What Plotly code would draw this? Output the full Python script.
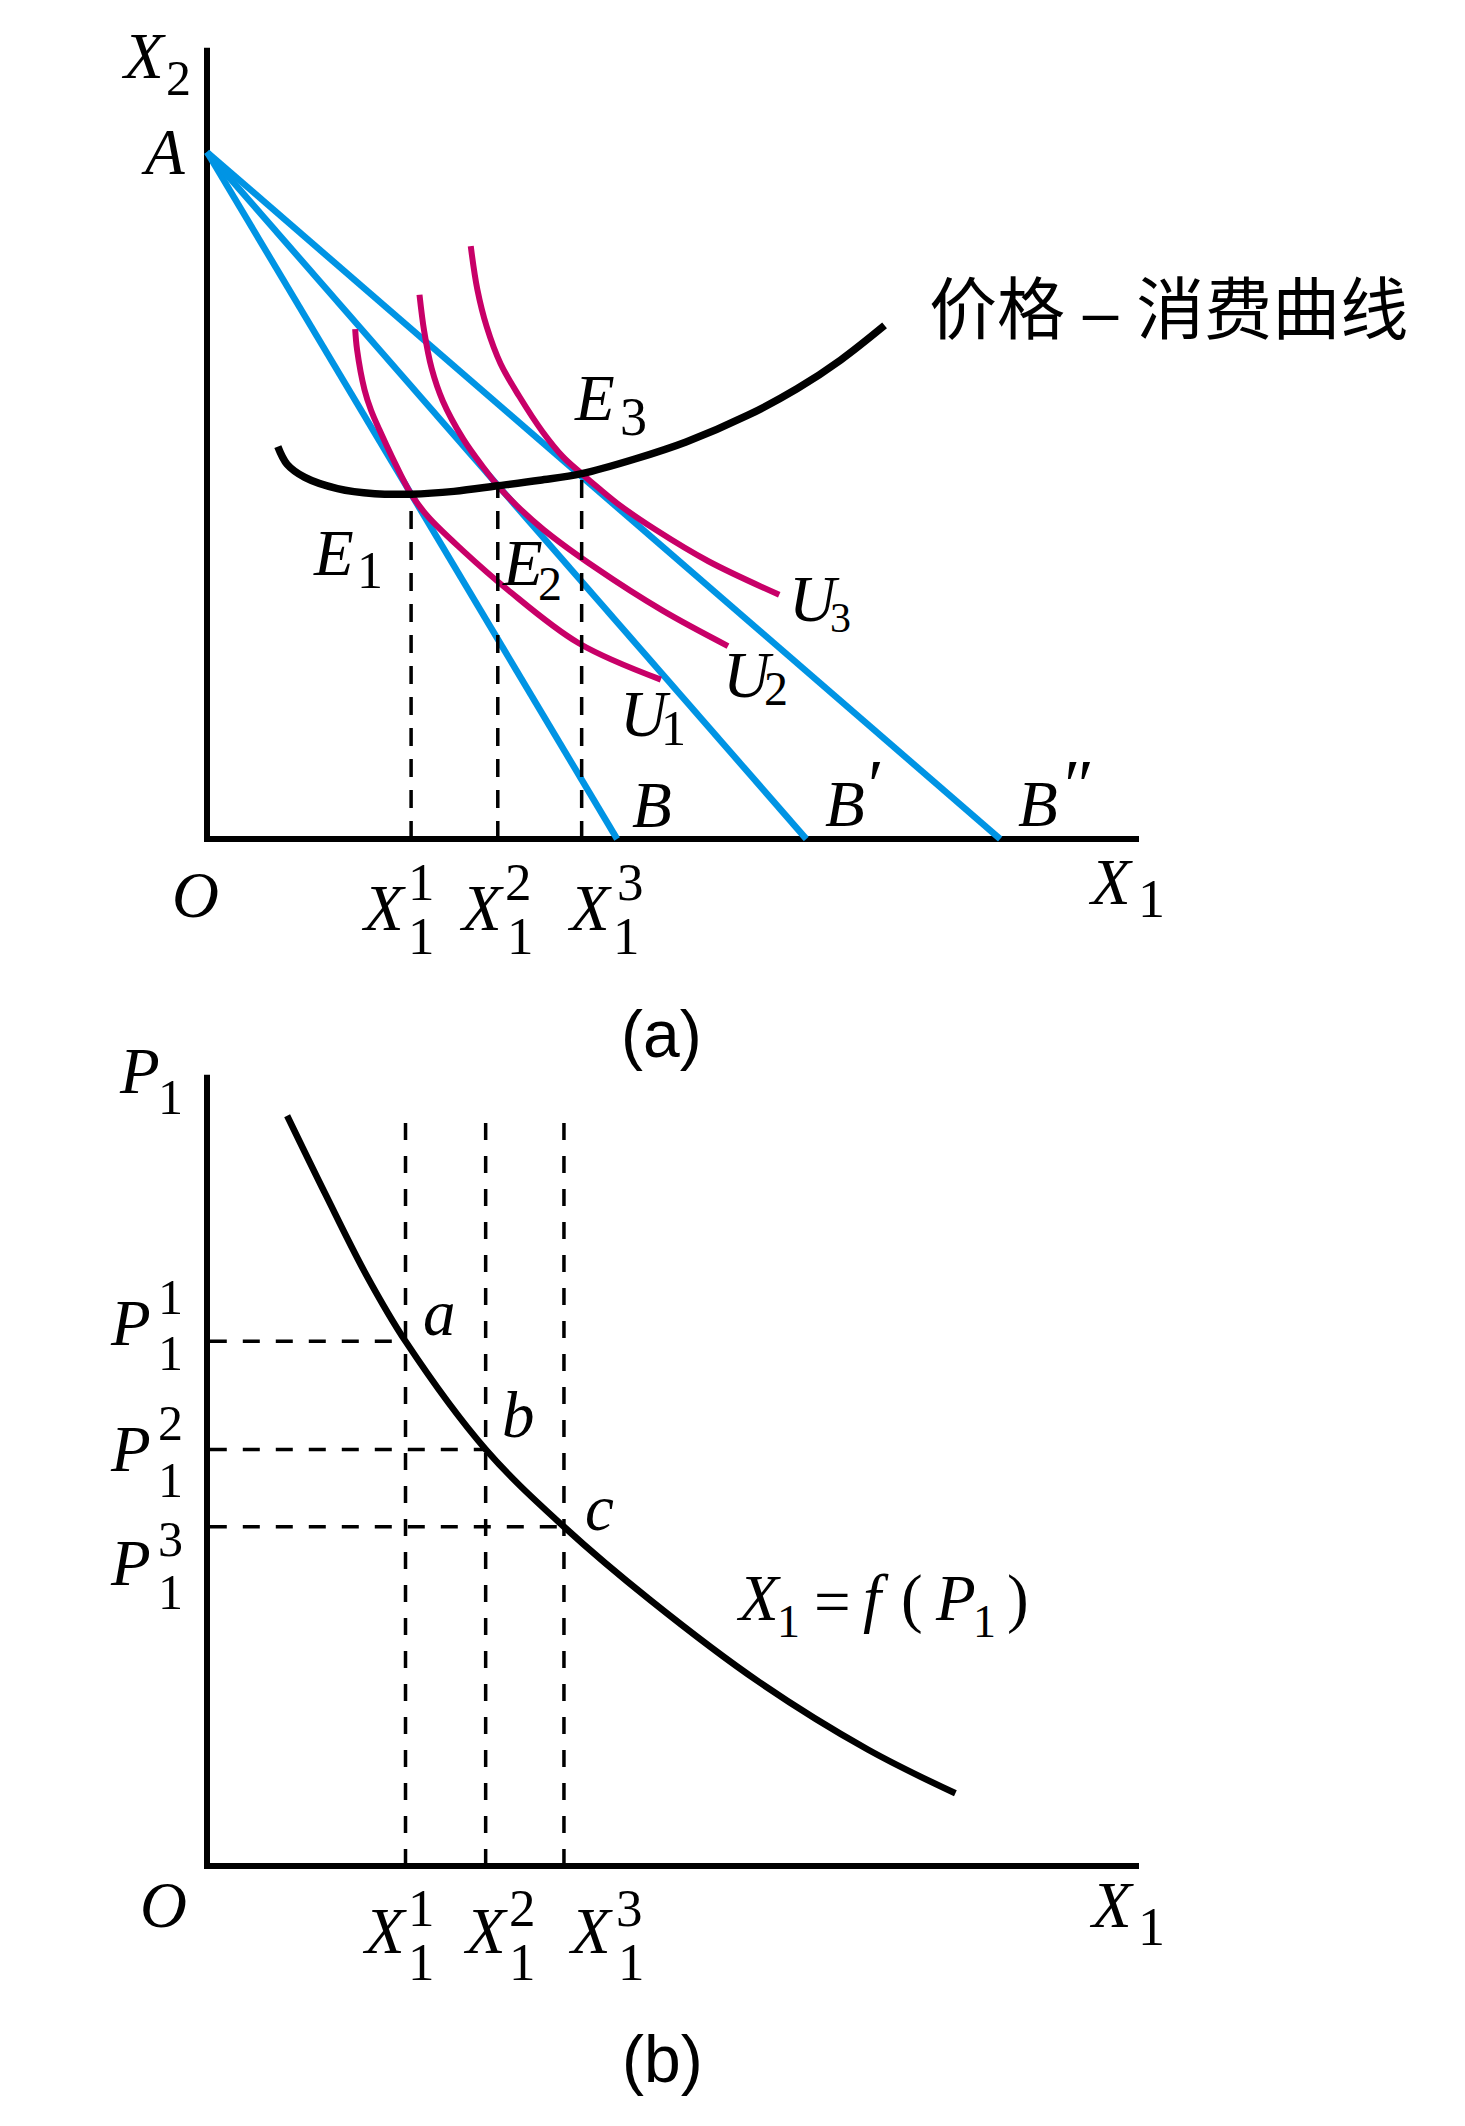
import plotly.graph_objects as go

# ---------------- (a) price-consumption diagram ----------------
AXIS_X_END = 10.0          # length of the X1 axis
AXIS_Y_END = 8.49          # length of the X2 axis

A_INTERCEPT = 7.37                 # X2 intercept shared by every budget line (point A)
B_INTERCEPTS = [4.40, 6.43, 8.51]  # X1 intercepts: B, B', B''
EQ_X = [2.19, 3.12, 4.02]          # X1^1, X1^2, X1^3
EQ_Y = [3.70, 3.79, 3.92]          # heights of E1, E2, E3

U1_X = [1.59, 1.61, 1.69, 1.76, 1.85, 1.99, 2.19, 2.37, 2.74, 3.22, 3.99, 4.87]
U1_Y = [5.47, 5.25, 4.82, 4.60, 4.39, 4.09, 3.70, 3.46, 3.10, 2.68, 2.10, 1.71]
U2_X = [2.28, 2.33, 2.41, 2.53, 2.75, 2.97, 3.12, 3.32, 3.61, 4.17, 4.89, 5.59]
U2_Y = [5.84, 5.45, 5.05, 4.70, 4.29, 3.98, 3.79, 3.58, 3.32, 2.91, 2.45, 2.07]
U3_X = [2.83, 2.90, 3.00, 3.15, 3.35, 3.60, 3.82, 4.02, 4.22, 4.43, 4.81, 5.38, 6.14]
U3_Y = [6.36, 5.90, 5.50, 5.10, 4.75, 4.37, 4.10, 3.92, 3.75, 3.58, 3.32, 2.98, 2.62]

PCC_X = [0.76, 0.86, 1.05, 1.40, 1.80, 2.19, 2.65, 3.12, 3.57, 4.02, 4.60, 5.14, 5.81, 6.33, 6.80, 7.27]
PCC_Y = [4.21, 4.02, 3.88, 3.76, 3.705, 3.70, 3.73, 3.79, 3.85, 3.92, 4.08, 4.26, 4.55, 4.83, 5.14, 5.51]

# ---------------- (b) demand curve ----------------
DEMAND_X = [0.86, 1.27, 1.71, 2.13, 2.99, 3.83, 4.76, 5.93, 7.09, 8.03]
DEMAND_Y = [8.05, 7.21, 6.34, 5.63, 4.47, 3.64, 2.85, 1.97, 1.25, 0.78]
PRICE_LEVELS = [5.63, 4.47, 3.64]   # P1^1, P1^2, P1^3
QTY_LEVELS = [2.13, 2.99, 3.83]     # X1^1, X1^2, X1^3
GUIDE_TOP = 8.02                    # top of the vertical guide lines
GUIDE_START = 0.03

BLUE = "#0094E4"
MAGENTA = "#C80068"
BLACK = "black"
SERIF = "Liberation Serif, Times New Roman, serif"
SANS = "Liberation Sans, Arial, sans-serif"
CJK = "Noto Sans CJK SC"

fig = go.Figure()


def line(xs, ys, panel, color, width, dash=None, spline=False):
    ax = dict(a=("x", "y"), b=("x2", "y2"))[panel]
    fig.add_trace(go.Scatter(
        x=xs, y=ys, xaxis=ax[0], yaxis=ax[1], mode="lines",
        line=dict(color=color, width=width, dash=dash,
                  shape="spline" if spline else "linear", smoothing=1.0),
        hoverinfo="skip", showlegend=False))


def label(panel, x, y, text, size, italic=True, family=SERIF):
    ax = dict(a=("x", "y"), b=("x2", "y2"))[panel]
    fig.add_annotation(
        xref=ax[0], yref=ax[1], x=x, y=y, showarrow=False,
        text=f"<i>{text}</i>" if italic else text,
        font=dict(family=family, size=size, color=BLACK),
        xanchor="center", yanchor="middle")


# ---- panel (a) ----
line([0, 0, AXIS_X_END], [AXIS_Y_END, 0, 0], "a", BLACK, 6)
for b in B_INTERCEPTS:
    line([0, b], [A_INTERCEPT, 0], "a", BLUE, 6.5)
for ux, uy in ((U1_X, U1_Y), (U2_X, U2_Y), (U3_X, U3_Y)):
    line(ux, uy, "a", MAGENTA, 6, spline=True)
line(PCC_X, PCC_Y, "a", BLACK, 7.5, spline=True)
for ex, ey in zip(EQ_X, EQ_Y):
    line([ex, ex], [0, ey], "a", BLACK, 3.5, dash="18px,13px")

# ---- panel (b) ----
line([0, 0, AXIS_X_END], [AXIS_Y_END, 0, 0], "b", BLACK, 6)
for q in QTY_LEVELS:
    line([q, q], [0, GUIDE_TOP], "b", BLACK, 3.5, dash="17px,16px")
for q, p in zip(QTY_LEVELS, PRICE_LEVELS):
    line([GUIDE_START, q], [p, p], "b", BLACK, 3.5, dash="17px,16px")
line(DEMAND_X, DEMAND_Y, "b", BLACK, 6.5, spline=True)

# ---- labels, panel (a) ----
label("a", -0.68, 8.40, "X", 65); label("a", -0.31, 8.16, "2", 50, False)
label("a", -0.47, 7.37, "A", 65)
label("a", 4.16, 4.73, "E", 65); label("a", 4.58, 4.53, "3", 54, False)
label("a", 1.36, 3.07, "E", 65); label("a", 1.75, 2.88, "1", 52, False)
label("a", 3.39, 2.96, "E", 65); label("a", 3.68, 2.74, "2", 48, False)
label("a", 6.52, 2.58, "U", 65); label("a", 6.80, 2.37, "3", 42, False)
label("a", 5.81, 1.76, "U", 65); label("a", 6.10, 1.61, "2", 48, False)
label("a", 4.71, 1.34, "U", 65); label("a", 5.01, 1.19, "1", 50, False)
label("a", 4.78, 0.37, "B", 65)
label("a", 6.85, 0.38, "B", 65); label("a", 7.18, 0.58, "\u2032", 72, False)
label("a", 8.92, 0.38, "B", 65); label("a", 9.36, 0.58, "\u2033", 72, False)
label("a", -0.12, -0.60, "O", 65)
for xx, sx, bx, sup in ((1.89, 2.30, 2.30, "1"), (2.95, 3.34, 3.36, "2"), (4.10, 4.54, 4.50, "3")):
    label("a", xx, -0.74, "X", 65)
    label("a", sx, -0.46, sup, 53, False)
    label("a", bx, -1.04, "1", 53, False)
label("a", 9.69, -0.46, "X", 65); label("a", 10.13, -0.64, "1", 54, False)
label("a", 10.32, 5.74,
      "价格<span style='font-family:Liberation Sans;font-size:64px'> \u2013 </span>消费曲线",
      68, False, CJK)
label("a", 4.88, -2.09, "(a)", 66, False, SANS)

# ---- labels, panel (b) ----
label("b", -0.72, 8.53, "P", 65); label("b", -0.39, 8.25, "1", 50, False)
for py, sup, sy, by in ((5.83, "1", 6.11, 5.50), (4.47, "2", 4.75, 4.14), (3.25, "3", 3.51, 2.94)):
    label("b", -0.82, py, "P", 65)
    label("b", -0.39, sy, sup, 50, False)
    label("b", -0.39, by, "1", 50, False)
label("b", 2.49, 5.93, "a", 65)
label("b", 3.34, 4.84, "b", 65)
label("b", 4.21, 3.84, "c", 65)
# X1 = f(P1)
label("b", 5.92, 2.88, "X", 65); label("b", 6.24, 2.62, "1", 46, False)
label("b", 6.71, 2.83, "=", 65, False)
label("b", 7.18, 2.88, "f", 65)
label("b", 7.56, 2.88, "(", 65, False)
label("b", 8.03, 2.88, "P", 65); label("b", 8.34, 2.62, "1", 46, False)
label("b", 8.70, 2.88, ")", 65, False)
label("b", -0.47, -0.42, "O", 65)
for xx, sx, bx, sup in ((1.90, 2.30, 2.30, "1"), (2.99, 3.39, 3.39, "2"), (4.12, 4.53, 4.56, "3")):
    label("b", xx, -0.70, "X", 65)
    label("b", sx, -0.45, sup, 53, False)
    label("b", bx, -1.03, "1", 53, False)
label("b", 9.71, -0.42, "X", 65); label("b", 10.13, -0.65, "1", 54, False)
label("b", 4.89, -2.07, "(b)", 66, False, SANS)

X_RANGE = [-2.2210, 13.4979]
hidden = dict(visible=False, showgrid=False, zeroline=False, domain=[0, 1], fixedrange=True)
fig.update_layout(
    width=1465, height=2126,
    margin=dict(l=0, r=0, t=0, b=0, pad=0),
    paper_bgcolor="white", plot_bgcolor="rgba(0,0,0,0)",
    showlegend=False,
    xaxis=dict(range=X_RANGE, anchor="y", **hidden),
    yaxis=dict(range=[-13.809, 9.0021], anchor="x", **hidden),
    xaxis2=dict(range=X_RANGE, anchor="y2", **hidden),
    yaxis2=dict(range=[-2.7897, 20.0215], anchor="x2", **hidden),
)

fig.write_html("out.html")
